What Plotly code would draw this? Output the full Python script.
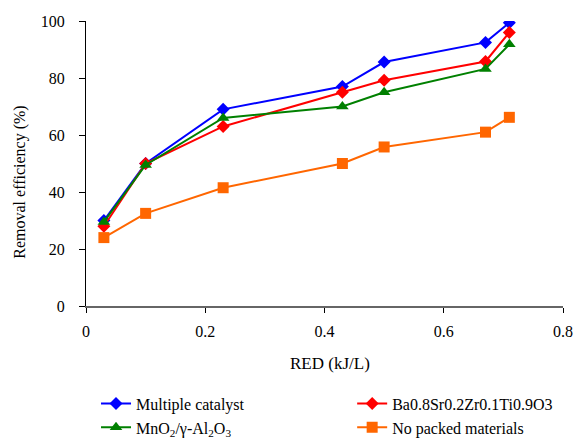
import plotly.graph_objects as go

red_x = [0.03, 0.10, 0.23, 0.43, 0.50, 0.67, 0.71]
names = ["Multiple catalyst", "Ba0.8Sr0.2Zr0.1Ti0.9O3",
         "MnO<sub>2</sub>/γ-Al<sub>2</sub>O<sub>3</sub>", "No packed materials"]
multiple = [30.0, 50.0, 69.0, 77.0, 85.6, 92.5, 99.4]
bszt = [28.0, 50.0, 63.0, 75.0, 79.2, 85.8, 96.0]
mno2 = [29.5, 49.5, 66.0, 70.0, 75.0, 83.2, 91.8]
nopack = [24.0, 32.5, 41.5, 50.0, 55.8, 61.0, 66.2]
x_ticks = [0, 0.2, 0.4, 0.6, 0.8]
x_ticktext = ["0", "0.2", "0.4", "0.6", "0.8"]
y_ticks = [0, 20, 40, 60, 80, 100]
x_title = "RED (kJ/L)"
y_title = "Removal efficiency (%)"

series = [
    (names[0], multiple, "#0000FF", "diamond", 10, "legend"),
    (names[1], bszt, "#FF0000", "diamond", 10, "legend2"),
    (names[2], mno2, "#008000", "triangle-up", 11, "legend"),
    (names[3], nopack, "#FF6600", "square", 11, "legend2"),
]

fig = go.Figure()
for name, ys, color, sym, sz, lg in series:
    fig.add_trace(go.Scatter(
        x=red_x, y=ys, name=name, mode="lines+markers", legend=lg,
        line=dict(color=color, width=2),
        marker=dict(color=color, symbol=sym, size=sz, line=dict(width=0)),
    ))

font_family = "Liberation Serif, DejaVu Serif, serif"
legend_common = dict(
    orientation="v", yanchor="top", xanchor="left", y=-0.283,
    font=dict(family=font_family, size=16, color="black"),
    bgcolor="rgba(0,0,0,0)", tracegroupgap=0,
)
fig.update_layout(
    width=575, height=439,
    margin=dict(l=86, r=12, t=21, b=133, autoexpand=False),
    paper_bgcolor="white", plot_bgcolor="white",
    font=dict(family=font_family, size=16, color="black"),
    showlegend=True,
    legend=dict(x=0.021, **legend_common),
    legend2=dict(x=0.558, **legend_common),
    xaxis=dict(
        range=[0, 0.8], tickvals=x_ticks, ticktext=x_ticktext,
        showgrid=False, zeroline=False,
        showline=True, linecolor="#666666", linewidth=1.5,
        ticks="outside", ticklen=5, tickcolor="black", tickwidth=1,
        ticklabelstandoff=5,
        tickfont=dict(family=font_family, size=16),
    ),
    yaxis=dict(
        range=[0, 100], tickvals=y_ticks,
        showgrid=False, zeroline=False,
        showline=True, linecolor="black", linewidth=1,
        ticks="outside", ticklen=6, tickcolor="black", tickwidth=1,
        ticklabelstandoff=11,
        tickfont=dict(family=font_family, size=16),
    ),
    annotations=[
        dict(text=x_title, xref="paper", yref="paper", x=0.512, y=-0.2,
             xanchor="center", yanchor="middle", showarrow=False,
             font=dict(family=font_family, size=17)),
        dict(text=y_title, xref="paper", yref="paper", x=-0.139, y=0.435,
             xanchor="center", yanchor="middle", textangle=-90, showarrow=False,
             font=dict(family=font_family, size=16)),
    ],
)

fig.write_html("out.html")
